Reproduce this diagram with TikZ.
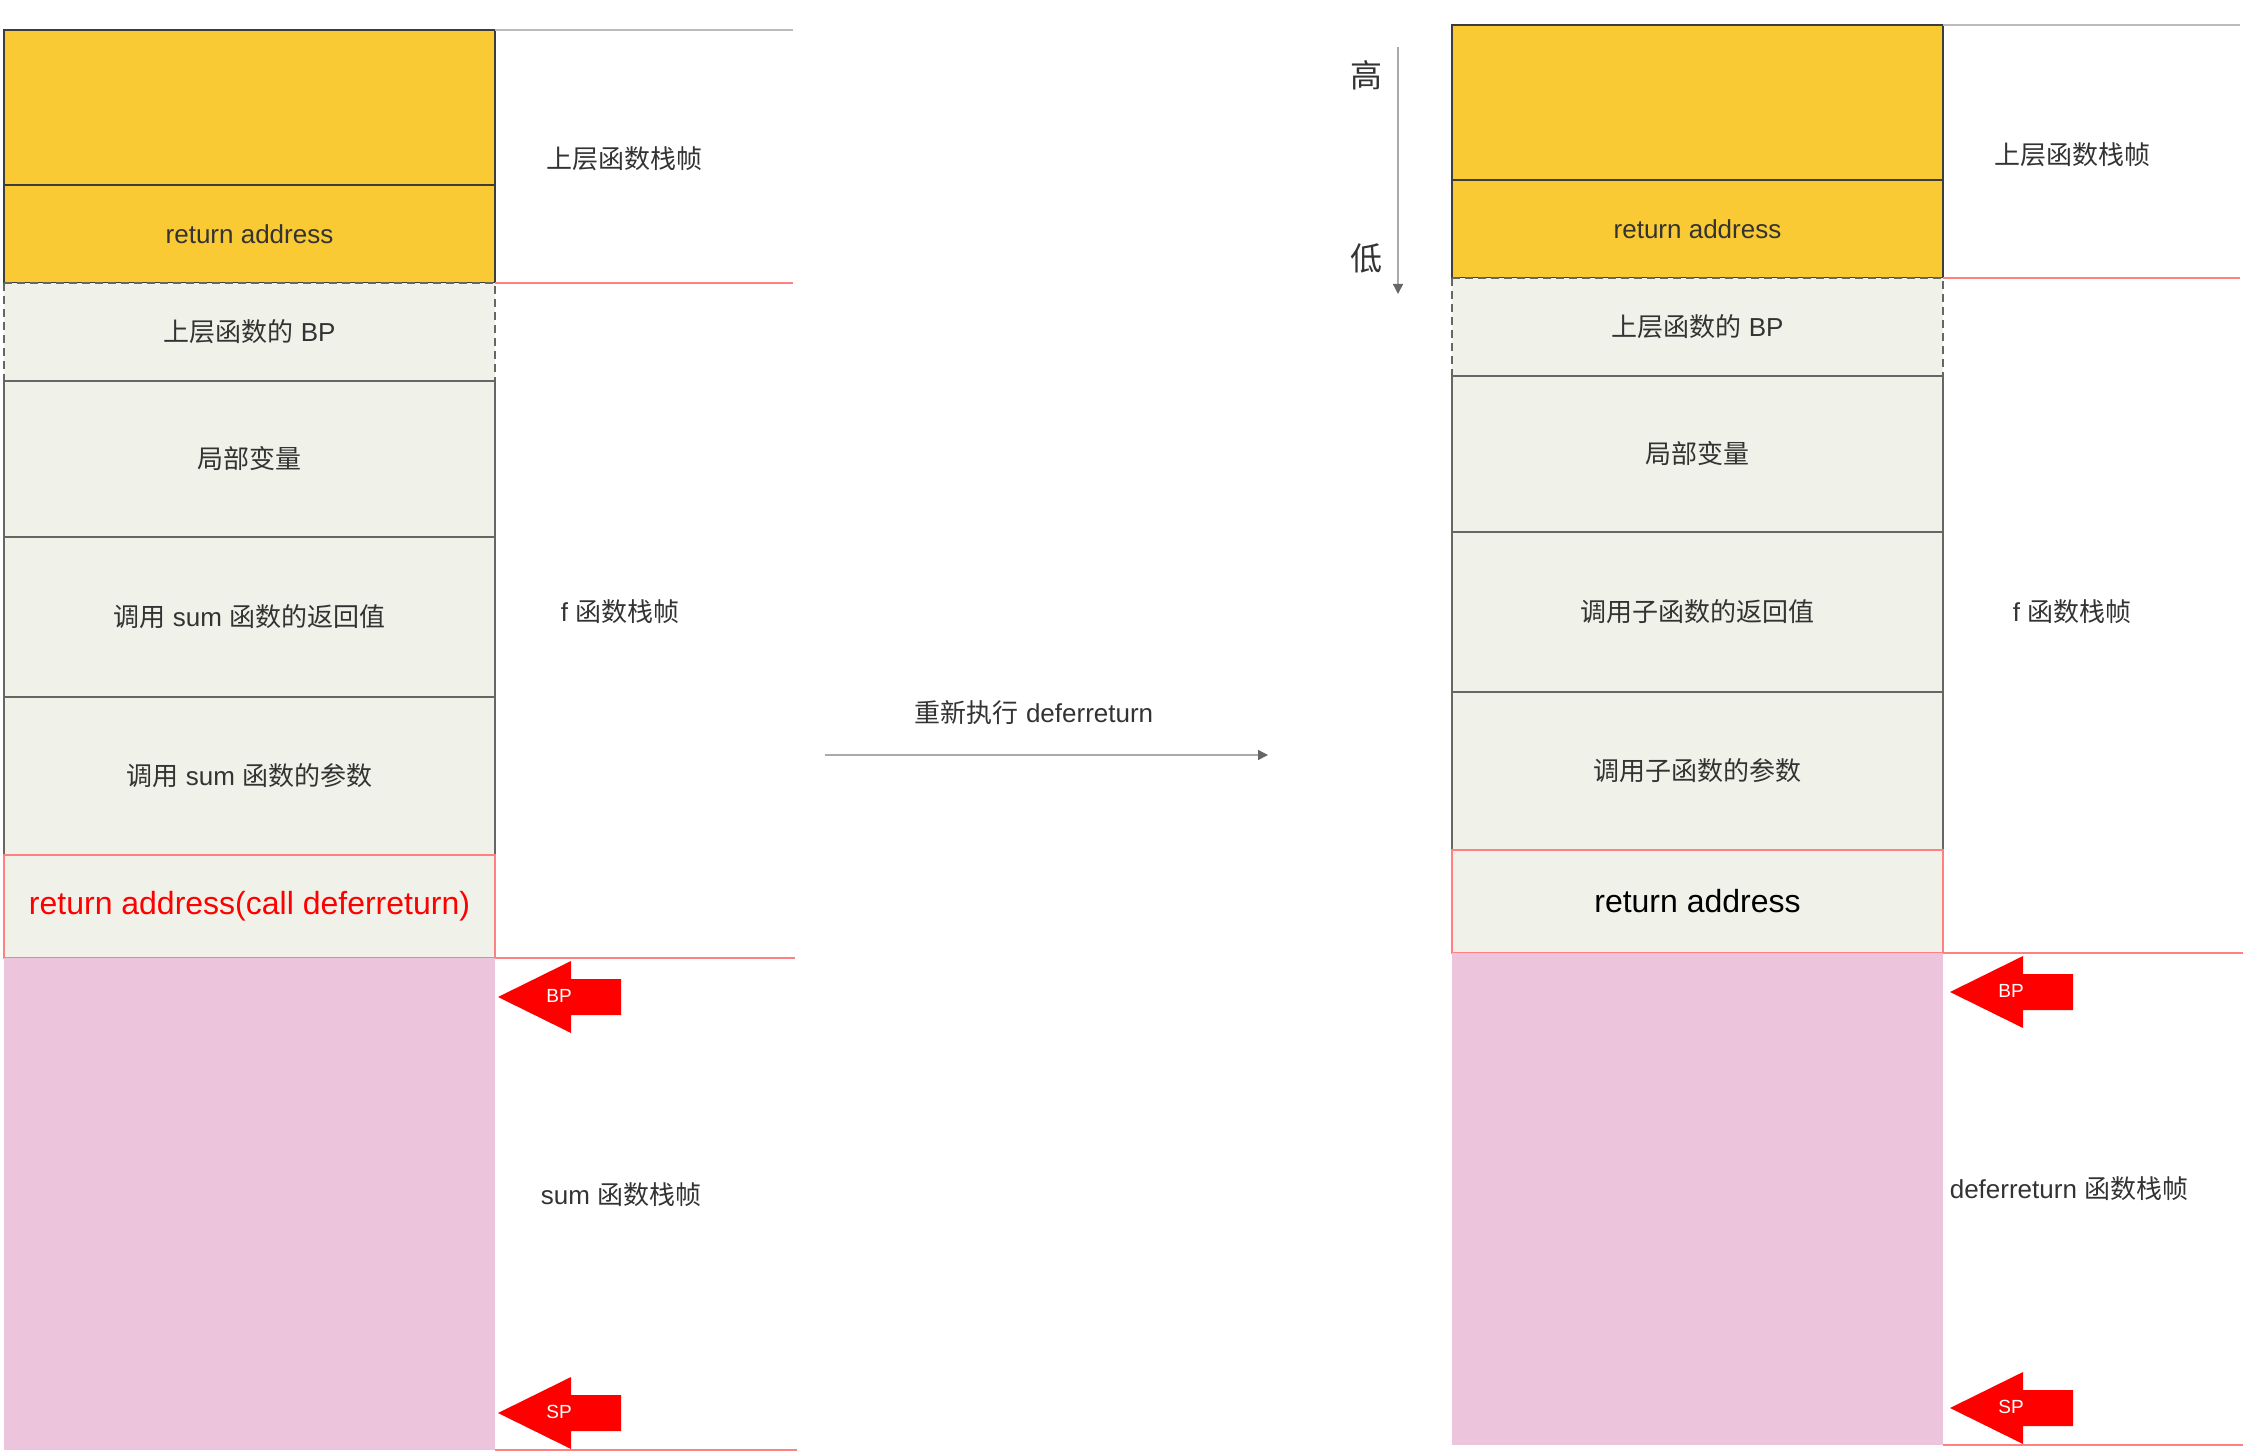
\documentclass[tikz,border=0pt]{standalone}
\usepackage{fontspec}
\setmainfont{Liberation Sans}
\newfontfamily\cjk{Noto Sans CJK SC}
\usetikzlibrary{positioning,arrows.meta}
\definecolor{frameyellow}{RGB}{249,202,51}
\definecolor{slotgray}{RGB}{240,242,234}
\definecolor{stackpink}{RGB}{236,196,219}
\definecolor{inkgray}{RGB}{51,51,51}
\definecolor{edgegray}{RGB}{102,102,102}
\definecolor{linered}{RGB}{255,128,128}
\definecolor{linegray}{RGB}{170,170,170}

\begin{document}
\begin{tikzpicture}[x=0.5pt,y=-0.5pt,
    slot/.style={
        rectangle,
        inner sep=0pt,
        outer sep=0pt,
        minimum width=245.5pt,
        line width=0.7pt,
        text=inkgray,
        font=\fontsize{13}{15}\selectfont
    },
    hiframe/.style={slot, fill=frameyellow, draw=edgegray!60!black},
    local/.style={slot, fill=slotgray, draw=edgegray},
    savedbp/.style={slot, fill=slotgray},
    retslot/.style={slot, fill=slotgray, draw=linered, font=\fontsize{16}{19}\selectfont},
    callee/.style={slot, fill=stackpink},
    dashbox/.style={draw=edgegray, line width=0.7pt, dash pattern=on 4pt off 2.5pt},
    side/.style={inner sep=0pt, text=inkgray, font=\fontsize{13}{15}\selectfont},
    topsep/.style={draw=linegray!80!white, line width=0.7pt},
    sep/.style={draw=linered, line width=0.7pt},
    ptrtag/.style={inner sep=0pt, text=white, font=\fontsize{9.5}{11}\selectfont},
    arrow/.style={draw=linegray, line width=0.7pt, -{Triangle[length=5pt,width=5pt,color=edgegray]}},
    ptr/.pic={\fill[red] (0,0) -- (73,-36) -- (73,-18) -- (123,-18) -- (123,18) -- (73,18) -- (73,36) -- cycle;}
]
    \useasboundingbox (0,0) rectangle (2248,1454);

    % Left stack
    \node[hiframe, minimum height=77.5pt, anchor=north west] (lup) at (4,30) {};
    \node[hiframe, minimum height=49pt, below=0pt of lup] (lra) {return address};
    \node[savedbp, minimum height=49pt, below=0pt of lra] (lbp) {{\cjk 上层函数的} BP};
    \node[local, minimum height=78pt, below=0pt of lbp] (lvar) {\cjk 局部变量};
    \node[local, minimum height=80pt, below=0pt of lvar] (lrv) {{\cjk 调用} sum {\cjk 函数的返回值}};
    \node[local, minimum height=79pt, below=0pt of lrv] (larg) {{\cjk 调用} sum {\cjk 函数的参数}};
    \node[retslot, text=red, minimum height=51.5pt, below=0pt of larg] (lret) {return address(call deferreturn)};
    \node[callee, minimum height=246pt, below=0pt of lret] (lsum) {};
    \draw[dashbox] (lbp.north west) rectangle (lbp.south east);

    % Right stack
    \node[hiframe, minimum height=77.5pt, anchor=north west] (rup) at (1452,25) {};
    \node[hiframe, minimum height=49pt, below=0pt of rup] (rra) {return address};
    \node[savedbp, minimum height=49pt, below=0pt of rra] (rbp) {{\cjk 上层函数的} BP};
    \node[local, minimum height=78pt, below=0pt of rbp] (rvar) {\cjk 局部变量};
    \node[local, minimum height=80pt, below=0pt of rvar] (rrv) {\cjk 调用子函数的返回值};
    \node[local, minimum height=79pt, below=0pt of rrv] (rarg) {\cjk 调用子函数的参数};
    \node[retslot, text=black, minimum height=51.5pt, below=0pt of rarg] (rret) {return address};
    \node[callee, minimum height=246pt, below=0pt of rret] (rdef) {};
    \draw[dashbox] (rbp.north west) rectangle (rbp.south east);

    % Frame borders
    \draw[topsep] (lup.north east) -- ++(298,0);
    \draw[sep] (lra.south east) -- ++(298,0);
    \draw[sep] (lret.south east) -- ++(300,0);
    \draw[sep] (lsum.south east) -- ++(302,0);
    \draw[topsep] (rup.north east) -- ++(297,0);
    \draw[sep] (rra.south east) -- ++(297,0);
    \draw[sep] (rret.south east) -- ++(300,0);
    \draw[sep] (rdef.south east) -- ++(300,0);

    % Frame names
    \node[side] (lupcap) at (624,159) {\cjk 上层函数栈帧};
    \node[side] (lfcap) at (620,612) {f {\cjk 函数栈帧}};
    \node[side] (lsumcap) at (621,1195) {sum {\cjk 函数栈帧}};
    \node[side] (rupcap) at (2072,155) {\cjk 上层函数栈帧};
    \node[side] (rfcap) at (2072,612) {f {\cjk 函数栈帧}};
    \node[side] (rdefcap) at (2069,1189) {deferreturn {\cjk 函数栈帧}};

    % BP / SP pointers
    \pic at (498,997) {ptr};
    \node[ptrtag] (lbptag) at (559,996) {BP};
    \pic at (498,1413) {ptr};
    \node[ptrtag] (lsptag) at (559,1412) {SP};
    \pic at (1950,992) {ptr};
    \node[ptrtag] (rbptag) at (2011,991) {BP};
    \pic at (1950,1408) {ptr};
    \node[ptrtag] (rsptag) at (2011,1407) {SP};

    % Transition
    \coordinate (gofrom) at (825,755);
    \coordinate (goto) at (1268,755);
    \draw[arrow] (gofrom) -- (goto);
    \node[side] (golbl) at (1034,713) {{\cjk 重新执行} deferreturn};

    % Address direction
    \coordinate (hiend) at (1398,47);
    \coordinate (loend) at (1398,294);
    \draw[arrow] (hiend) -- (loend);
    \node[side, font=\fontsize{16}{19}\selectfont] (hilbl) at (1366,75) {\cjk 高};
    \node[side, font=\fontsize{16}{19}\selectfont] (lolbl) at (1366,258) {\cjk 低};
\end{tikzpicture}
\end{document}
